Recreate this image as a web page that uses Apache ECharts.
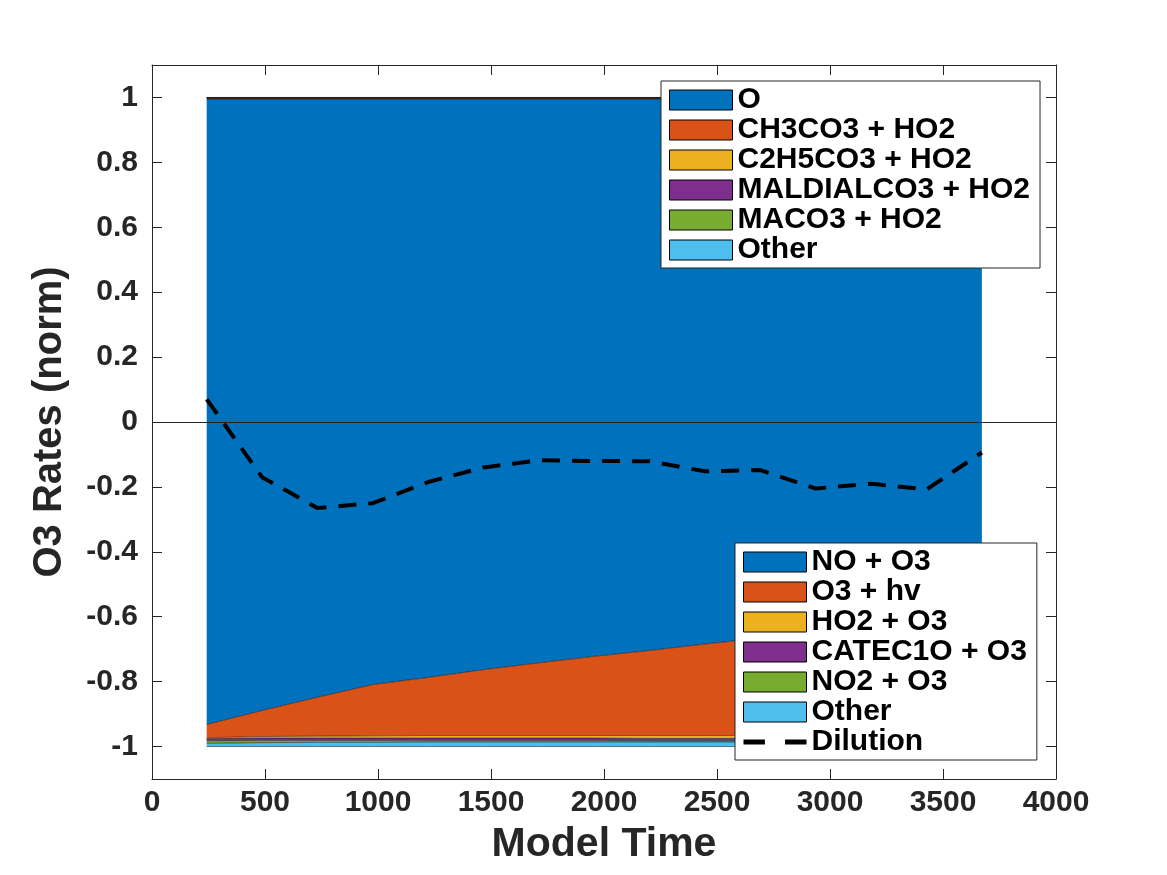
<!DOCTYPE html>
<html><head><meta charset="utf-8">
<script src="https://cdn.jsdelivr.net/npm/echarts@6/dist/echarts.min.js"></script>
<style>html,body{margin:0;padding:0;background:#fff}#c{width:1167px;height:875px}</style>
</head><body><div id="c"></div>
<script>
// ---- data ----
const time = [242, 487, 732, 977, 1222, 1467, 1712, 1957, 2202, 2447, 2692, 2937, 3182, 3427, 3672];

// production (positive)
const prodNames = ['O', 'CH3CO3 + HO2', 'C2H5CO3 + HO2', 'MALDIALCO3 + HO2', 'MACO3 + HO2', 'Other'];
const pO        = [0.995,0.995,0.995,0.995,0.995,0.995,0.995,0.995,0.995,0.995,0.995,0.995,0.995,0.995,0.995];
const pCH3CO3   = [0.002,0.002,0.002,0.002,0.002,0.002,0.002,0.002,0.002,0.002,0.002,0.002,0.002,0.002,0.002];
const pC2H5CO3  = [0.001,0.001,0.001,0.001,0.001,0.001,0.001,0.001,0.001,0.001,0.001,0.001,0.001,0.001,0.001];
const pMALDIAL  = [0.0008,0.0008,0.0008,0.0008,0.0008,0.0008,0.0008,0.0008,0.0008,0.0008,0.0008,0.0008,0.0008,0.0008,0.0008];
const pMACO3    = [0.0006,0.0006,0.0006,0.0006,0.0006,0.0006,0.0006,0.0006,0.0006,0.0006,0.0006,0.0006,0.0006,0.0006,0.0006];
const pOther    = [0.0006,0.0006,0.0006,0.0006,0.0006,0.0006,0.0006,0.0006,0.0006,0.0006,0.0006,0.0006,0.0006,0.0006,0.0006];

// loss (negative)
const lossNames = ['NO + O3', 'O3 + hv', 'HO2 + O3', 'CATEC1O + O3', 'NO2 + O3', 'Other'];
const lNOO3   = [-0.932,-0.889,-0.848,-0.809,-0.787,-0.763,-0.742,-0.722,-0.704,-0.684,-0.666,-0.650,-0.635,-0.620,-0.605];
const lO3hv   = [-0.041,-0.080,-0.120,-0.158,-0.179,-0.203,-0.224,-0.244,-0.262,-0.282,-0.300,-0.316,-0.331,-0.346,-0.361];
const lHO2O3  = [-0.003,-0.005,-0.006,-0.007,-0.008,-0.008,-0.008,-0.008,-0.009,-0.009,-0.009,-0.009,-0.009,-0.009,-0.009];
const lCATEC  = [-0.006,-0.007,-0.007,-0.007,-0.007,-0.007,-0.007,-0.007,-0.007,-0.007,-0.007,-0.007,-0.007,-0.007,-0.007];
const lNO2O3  = [-0.008,-0.007,-0.006,-0.006,-0.005,-0.005,-0.005,-0.005,-0.004,-0.004,-0.004,-0.004,-0.004,-0.004,-0.004];
const lOther  = [-0.010,-0.012,-0.013,-0.013,-0.014,-0.014,-0.014,-0.014,-0.014,-0.014,-0.014,-0.014,-0.014,-0.014,-0.014];

const dilution = [0.07,-0.17,-0.265,-0.25,-0.185,-0.14,-0.118,-0.12,-0.121,-0.152,-0.148,-0.205,-0.19,-0.208,-0.094];

const yTicks = [-1, -0.8, -0.6, -0.4, -0.2, 0, 0.2, 0.4, 0.6, 0.8, 1];
const xTitle = 'Model Time';
const yTitle = 'O3 Rates (norm)';

// ---- styling ----
const colors = ['#0072BD', '#D95319', '#EDB120', '#7E2F8E', '#77AC30', '#4DBEEE'];
const FONT = "'Liberation Sans', Arial, Helvetica, sans-serif";
const AX = '#262626';

// value first, time second: the library stacks the first numeric dimension (here the y value)
function pairsVT(vals) { return time.map((t, i) => [vals[i], t]); }
function area(name, vals, stack, color) {
  return {
    name: name, type: 'line', stack: stack, data: pairsVT(vals),
    encode: { x: 1, y: 0 },
    symbol: 'none', showSymbol: false,
    lineStyle: { color: '#000', width: 0.5 },
    itemStyle: { color: color },
    areaStyle: { color: color, opacity: 1 },
    emphasis: { disabled: true }
  };
}

const series = [];
[pO, pCH3CO3, pC2H5CO3, pMALDIAL, pMACO3, pOther].forEach((v, i) => series.push(area(prodNames[i], v, 'prod', colors[i])));
[lNOO3, lO3hv, lHO2O3, lCATEC, lNO2O3, lOther].forEach((v, i) => series.push(area(lossNames[i], v, 'loss', colors[i])));
series.push({
  name: 'Dilution', type: 'line', data: pairsVT(dilution), encode: { x: 1, y: 0 },
  symbol: 'none', showSymbol: false,
  itemStyle: { color: '#000' },
  lineStyle: { color: '#000', width: 4, type: [18, 12] },
  emphasis: { disabled: true },
  z: 5,
  markLine: {
    silent: true, symbol: ['none', 'none'], label: { show: false },
    lineStyle: { color: AX, width: 1, type: 'solid' },
    data: [{ yAxis: 0 }]
  }
});

const legendText = { fontFamily: FONT, fontWeight: 'bold', fontSize: 30, color: '#000' };
const legendCommon = {
  orient: 'vertical', itemWidth: 63, itemHeight: 20, itemGap: 0,
  backgroundColor: '#fff', borderColor: AX, borderWidth: 1,
  padding: [4, 10, 3, 8], textStyle: legendText, icon: 'rect',
  itemStyle: { borderColor: '#000', borderWidth: 1 },
  selectedMode: false, z: 10
};

const xLabelFmt = v => String(Math.round(v));

const option = {
  backgroundColor: '#fff',
  animation: false,
  grid: { left: 152, right: 111, top: 65, bottom: 96, containLabel: false },
  xAxis: [{
    type: 'value', min: 0, max: 4000, interval: 500, position: 'bottom',
    name: xTitle, nameLocation: 'middle', nameGap: 45,
    nameTextStyle: { fontFamily: FONT, fontWeight: 'bold', fontSize: 41, color: AX },
    axisLine: { show: true, onZero: false, lineStyle: { color: AX, width: 1 } },
    axisTick: { show: true, inside: true, length: 10, lineStyle: { color: AX } },
    axisLabel: { fontFamily: FONT, fontWeight: 'bold', fontSize: 30, color: AX, margin: 9, formatter: xLabelFmt },
    splitLine: { show: false }
  }, {
    type: 'value', min: 0, max: 4000, interval: 500, position: 'top',
    axisLine: { show: true, onZero: false, lineStyle: { color: AX, width: 1 } },
    axisTick: { show: true, inside: true, length: 10, lineStyle: { color: AX } },
    axisLabel: { show: false }, splitLine: { show: false }
  }],
  yAxis: [{
    type: 'value', min: -1.1, max: 1.1, position: 'left',
    name: yTitle, nameLocation: 'middle', nameGap: 82,
    nameTextStyle: { fontFamily: FONT, fontWeight: 'bold', fontSize: 40, color: AX },
    axisLine: { show: true, onZero: false, lineStyle: { color: AX, width: 1 } },
    axisTick: { show: true, inside: true, length: 10, lineStyle: { color: AX }, customValues: yTicks },
    axisLabel: { fontFamily: FONT, fontWeight: 'bold', fontSize: 30, color: AX, margin: 14, customValues: yTicks },
    splitLine: { show: false }
  }, {
    type: 'value', min: -1.1, max: 1.1, position: 'right',
    axisLine: { show: true, onZero: false, lineStyle: { color: AX, width: 1 } },
    axisTick: { show: true, inside: true, length: 10, lineStyle: { color: AX }, customValues: yTicks },
    axisLabel: { show: false, customValues: yTicks }, splitLine: { show: false }
  }],
  legend: [
    Object.assign({}, legendCommon, { left: 661, top: 81, data: prodNames.map(n => ({ name: n })) }),
    Object.assign({}, legendCommon, {
      left: 735, top: 543,
      data: lossNames.map(n => ({ name: n })).concat([{
        name: 'Dilution', icon: 'path://M0,0h17v4h-17zM33,0h17v4h-17z',
        itemStyle: { color: '#000', borderWidth: 0 }
      }])
    })
  ],
  series: series
};

const chart = echarts.init(document.getElementById('c'), null, { renderer: 'canvas' });
chart.setOption(option);
</script>
</body></html>
